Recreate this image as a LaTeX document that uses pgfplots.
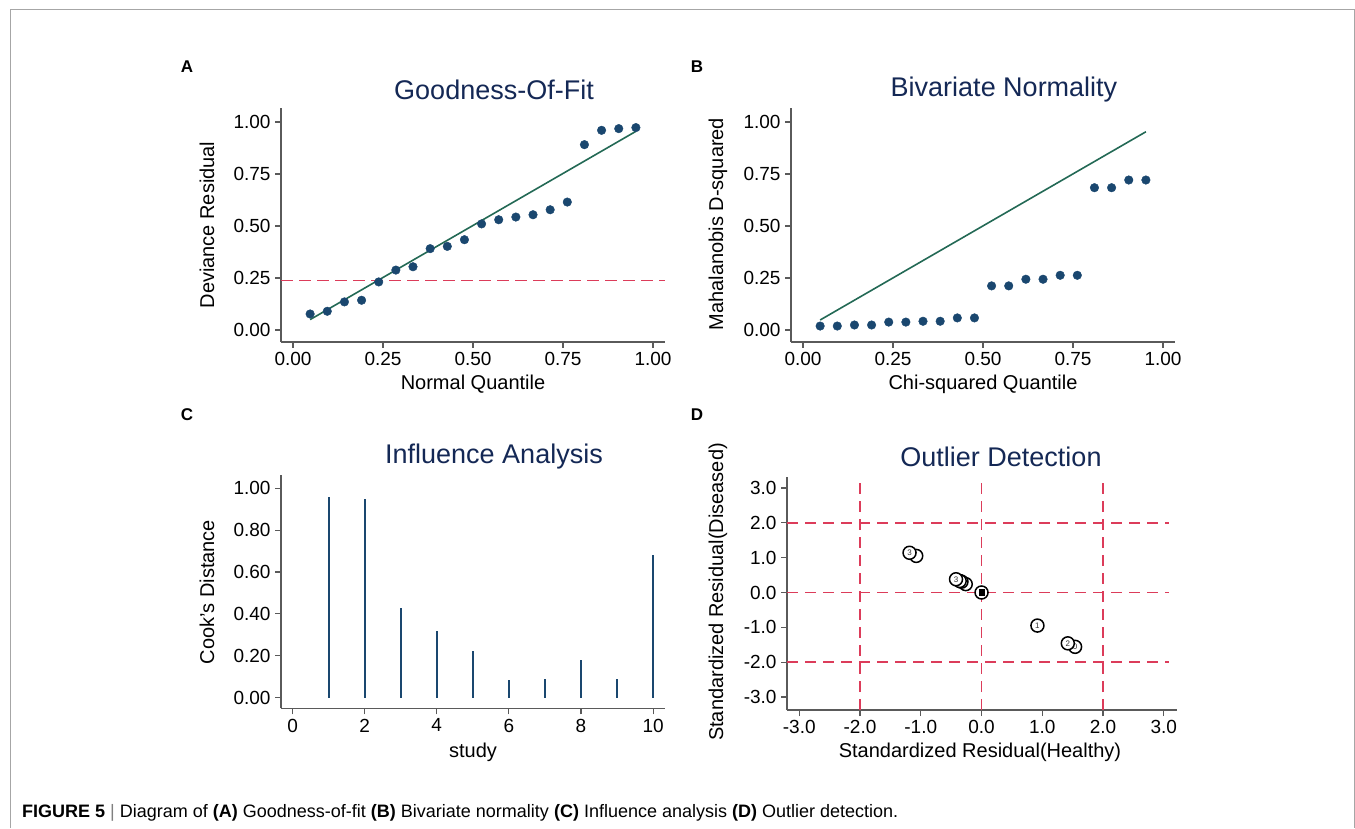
\documentclass[border=0pt]{standalone}
\usepackage{pgfplots}
\pgfplotsset{compat=1.18}
\usepackage{fontspec}
\setmainfont{Liberation Sans}
\definecolor{snavy}{RGB}{26,71,111}
\definecolor{sgreen}{RGB}{35,105,85}
\definecolor{sred}{RGB}{220,60,90}
\definecolor{stitle}{RGB}{20,40,85}
\definecolor{saxis}{RGB}{90,90,90}
\pgfplotsset{
  stata/.style={
    scale only axis,
    anchor=south west,
    axis x line*=bottom,
    axis y line*=left,
    axis line style={saxis, line width=1.1bp},
    tick style={saxis, line width=1.1bp},
    tick align=outside,
    major tick length=6bp,
    minor tick num=0,
    clip=false,
    ticklabel style={font=\fontsize{19bp}{22bp}\selectfont, text=black},
    yticklabel style={xshift=-1bp},
    xticklabel style={yshift=-1bp},
  },
  navydot/.style={only marks, mark=*, mark size=4.3bp, mark options={fill=snavy, draw=snavy}},
  redgrid/.style={sred, line width=1.5bp, dash pattern=on 11bp off 7bp},
}
\begin{document}
\begin{tikzpicture}[x=1bp,y=1bp]
\useasboundingbox (0,0) rectangle (1355,828);
\draw[gray!70, line width=1bp] (10,0) -- (10,818) -- (1354,818) -- (1354,0);

% ---------- A ----------
\begin{axis}[stata, at={(281bp,486bp)}, width=384bp, height=234bp,
  xmin=-0.0333, xmax=1.0333, ymin=-0.0577, ymax=1.0673,
  xtick={0,0.25,0.5,0.75,1}, xticklabels={0.00,0.25,0.50,0.75,1.00},
  ytick={0,0.25,0.5,0.75,1}, yticklabels={0.00,0.25,0.50,0.75,1.00}]
\addplot[sred, line width=1.3bp, dash pattern=on 12bp off 6bp] coordinates {(-0.0333,0.239) (1.0333,0.239)};
\addplot[sgreen, line width=1.6bp] coordinates {(0.0476,0.05) (0.9524,0.955)};
\addplot[navydot] coordinates {
(0.0476,0.077) (0.0952,0.090) (0.1429,0.135) (0.1905,0.143) (0.2381,0.231)
(0.2857,0.288) (0.3333,0.304) (0.3810,0.391) (0.4286,0.402) (0.4762,0.434)
(0.5238,0.510) (0.5714,0.530) (0.6190,0.543) (0.6667,0.554) (0.7143,0.578)
(0.7619,0.615) (0.8095,0.891) (0.8571,0.960) (0.9048,0.968) (0.9524,0.973)};
\end{axis}

% ---------- B ----------
\begin{axis}[stata, at={(791bp,486bp)}, width=384bp, height=234bp,
  xmin=-0.0333, xmax=1.0333, ymin=-0.0577, ymax=1.0673,
  xtick={0,0.25,0.5,0.75,1}, xticklabels={0.00,0.25,0.50,0.75,1.00},
  ytick={0,0.25,0.5,0.75,1}, yticklabels={0.00,0.25,0.50,0.75,1.00}]
\addplot[sgreen, line width=1.6bp] coordinates {(0.0476,0.048) (0.9524,0.953)};
\addplot[navydot] coordinates {
(0.0476,0.019) (0.0952,0.019) (0.1429,0.024) (0.1905,0.024) (0.2381,0.038)
(0.2857,0.038) (0.3333,0.042) (0.3810,0.042) (0.4286,0.058) (0.4762,0.058)
(0.5238,0.212) (0.5714,0.212) (0.6190,0.244) (0.6667,0.244) (0.7143,0.263)
(0.7619,0.263) (0.8095,0.684) (0.8571,0.684) (0.9048,0.721) (0.9524,0.721)};
\end{axis}

% ---------- C ----------
\begin{axis}[stata, at={(281bp,119.7bp)}, width=384bp, height=233.3bp,
  xmin=-0.32, xmax=10.33, ymin=-0.0506, ymax=1.063,
  xtick={0,2,4,6,8,10}, xticklabels={0,2,4,6,8,10},
  ytick={0,0.2,0.4,0.6,0.8,1}, yticklabels={0.00,0.20,0.40,0.60,0.80,1.00}]
\addplot[ycomb, snavy, line width=1.8bp, mark=none] coordinates {
(1,0.960) (2,0.950) (3,0.430) (4,0.320) (5,0.222) (6,0.083) (7,0.088) (8,0.178) (9,0.088) (10,0.680)};
\end{axis}

% ---------- D ----------
\begin{axis}[stata, at={(787bp,118bp)}, width=390bp, height=233bp,
  xmin=-3.202, xmax=3.218, ymin=-3.374, ymax=3.316,
  xtick={-3,-2,-1,0,1,2,3}, xticklabels={-3.0,-2.0,-1.0,0.0,1.0,2.0,3.0},
  ytick={-3,-2,-1,0,1,2,3}, yticklabels={-3.0,-2.0,-1.0,0.0,1.0,2.0,3.0}]
\addplot[redgrid] coordinates {(-2,-3.374) (-2,3.316)};
\addplot[redgrid] coordinates {(0,-3.374) (0,3.316)};
\addplot[redgrid] coordinates {(2,-3.374) (2,3.316)};
\addplot[redgrid] coordinates {(-3.202,-2) (3.09,-2)};
\addplot[redgrid] coordinates {(-3.202,0) (3.09,0)};
\addplot[redgrid] coordinates {(-3.202,2) (3.09,2)};
\addplot[only marks, mark=*, mark size=6.5bp, mark options={fill=white, draw=black, line width=1.5bp},
  point meta=explicit symbolic,
  nodes near coords, nodes near coords align={center},
  every node near coord/.append style={font=\fontsize{8bp}{9bp}\selectfont, inner sep=0pt, text=black!80}]
  table[meta=lab] {
x y lab
-1.075 1.05 {}
-1.185 1.14 3
-0.26 0.24 {}
-0.33 0.31 {}
-0.36 0.33 {}
-0.42 0.38 3
0 0 {}
0.92 -0.95 1
1.54 -1.56 0
1.42 -1.46 2
};
\addplot[only marks, mark=square*, mark size=2.8bp, mark options={fill=black, draw=black}] coordinates {(0,0)};
\end{axis}

% ---------- texts ----------
\begin{scope}[every node/.style={inner sep=0pt}]
\node[font=\fontsize{17bp}{20bp}\selectfont\bfseries] at (187,761) {A};
\node[font=\fontsize{17bp}{20bp}\selectfont\bfseries] at (697,761) {B};
\node[font=\fontsize{17bp}{20bp}\selectfont\bfseries] at (187,413) {C};
\node[font=\fontsize{17bp}{20bp}\selectfont\bfseries] at (697,413) {D};

\node[font=\fontsize{27bp}{30bp}\selectfont, text=stitle] at (494,738) {Goodness-Of-Fit};
\node[font=\fontsize{27bp}{30bp}\selectfont, text=stitle] at (1004,738) {Bivariate Normality};
\node[font=\fontsize{27bp}{30bp}\selectfont, text=stitle] at (494,371) {Influence Analysis};
\node[font=\fontsize{27bp}{30bp}\selectfont, text=stitle] at (1001,371) {Outlier Detection};

\node[font=\fontsize{20bp}{23bp}\selectfont] at (473,444) {Normal Quantile};
\node[font=\fontsize{20bp}{23bp}\selectfont] at (983,444) {Chi-squared Quantile};
\node[font=\fontsize{20bp}{23bp}\selectfont] at (473,76) {study};
\node[font=\fontsize{20bp}{23bp}\selectfont] at (980,76) {Standardized Residual(Healthy)};

\node[font=\fontsize{20bp}{23bp}\selectfont, rotate=90] at (207,603) {Deviance Residual};
\node[font=\fontsize{20bp}{23bp}\selectfont, rotate=90] at (718,604) {Mahalanobis D-squared};
\node[font=\fontsize{20bp}{23bp}\selectfont, rotate=90] at (207,236) {Cook's Distance};
\node[font=\fontsize{20bp}{23bp}\selectfont, rotate=90] at (718,236) {Standardized Residual(Diseased)};

\node[anchor=base west, font=\fontsize{18bp}{21bp}\selectfont] at (22,11) {{\bfseries FIGURE 5} \textcolor{gray}{|} Diagram of {\bfseries (A)} Goodness-of-fit {\bfseries (B)} Bivariate normality {\bfseries (C)} Influence analysis {\bfseries (D)} Outlier detection.};
\end{scope}
\end{tikzpicture}
\end{document}
